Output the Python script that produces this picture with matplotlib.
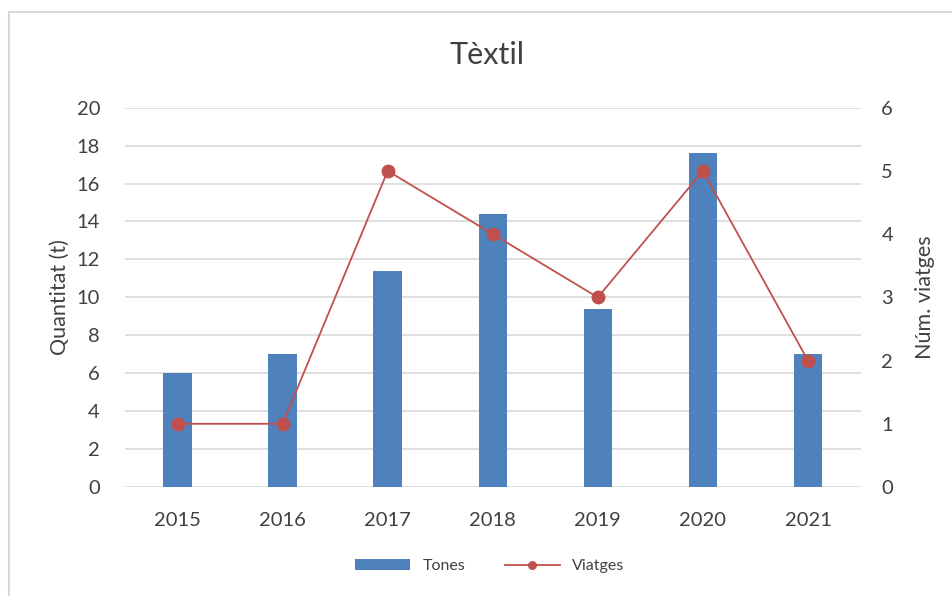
import numpy as np
import matplotlib
matplotlib.use('Agg')
import matplotlib.pyplot as plt
from matplotlib.patches import Rectangle

plt.rcParams['font.family'] = ['Lato', 'DejaVu Sans']

years = ['2015', '2016', '2017', '2018', '2019', '2020', '2021']
tones = [6.0, 7.0, 11.4, 14.4, 9.4, 17.6, 7.0]
viatges = [1, 1, 5, 4, 3, 5, 2]

barColor = '#4F81BD'
lineColor = '#C0504D'
gridColor = '#D9D9D9'
textColor = '#404040'

fig = plt.figure(figsize=(9.52, 5.96), dpi=100)
ax = fig.add_axes([125/952, 1-487/596, (860.5-125)/952, (487-107.7)/596])
ax2 = ax.twinx()

x = np.arange(len(years))
bars = ax.bar(x, tones, width=0.27, color=barColor, label='Tones', zorder=2)
line, = ax2.plot(x, viatges, color=lineColor, linewidth=1.3, marker='o',
                 markersize=9, label='Viatges')

ax.set_xlim(-0.5, len(years)-0.5)
ax.set_ylim(0, 20)
ax.set_yticks(range(0, 21, 2))
ax2.set_ylim(0, 6)
ax2.set_yticks(range(0, 7))
ax.set_xticks(x)
ax.set_xticklabels(years)

ax.set_axisbelow(True)
ax.yaxis.grid(True, color=gridColor, linewidth=1.2)
for a in (ax, ax2):
    for s in a.spines.values():
        s.set_visible(False)
    a.tick_params(length=0, labelsize=14.5, colors=textColor)
ax.tick_params(axis='y', pad=18)
ax.tick_params(axis='x', pad=18)
ax2.tick_params(axis='y', pad=15)

ax.set_ylabel('Quantitat (t)', fontsize=15.5, color=textColor, labelpad=5)
ax2.set_ylabel('Núm. viatges', fontsize=15.5, color=textColor, labelpad=16)

fig.text(487/952, 1-55/596, 'Tèxtil', fontsize=22, color=textColor,
         ha='center', va='center')

fig.legend(handles=[bars, line], loc='center', bbox_to_anchor=(490/952, 1-566/596),
           ncol=2, frameon=False, fontsize=11.5, handlelength=3.4, handleheight=0.7,
           columnspacing=2.5, labelcolor=textColor, markerscale=0.6)

# light frame around the chart area
fig.add_artist(Rectangle((9/952, -0.1), 1.2, 1-11.5/596+0.1, transform=fig.transFigure,
                         fill=False, edgecolor=gridColor, linewidth=1.5))

fig.savefig('out.png', dpi=100)
